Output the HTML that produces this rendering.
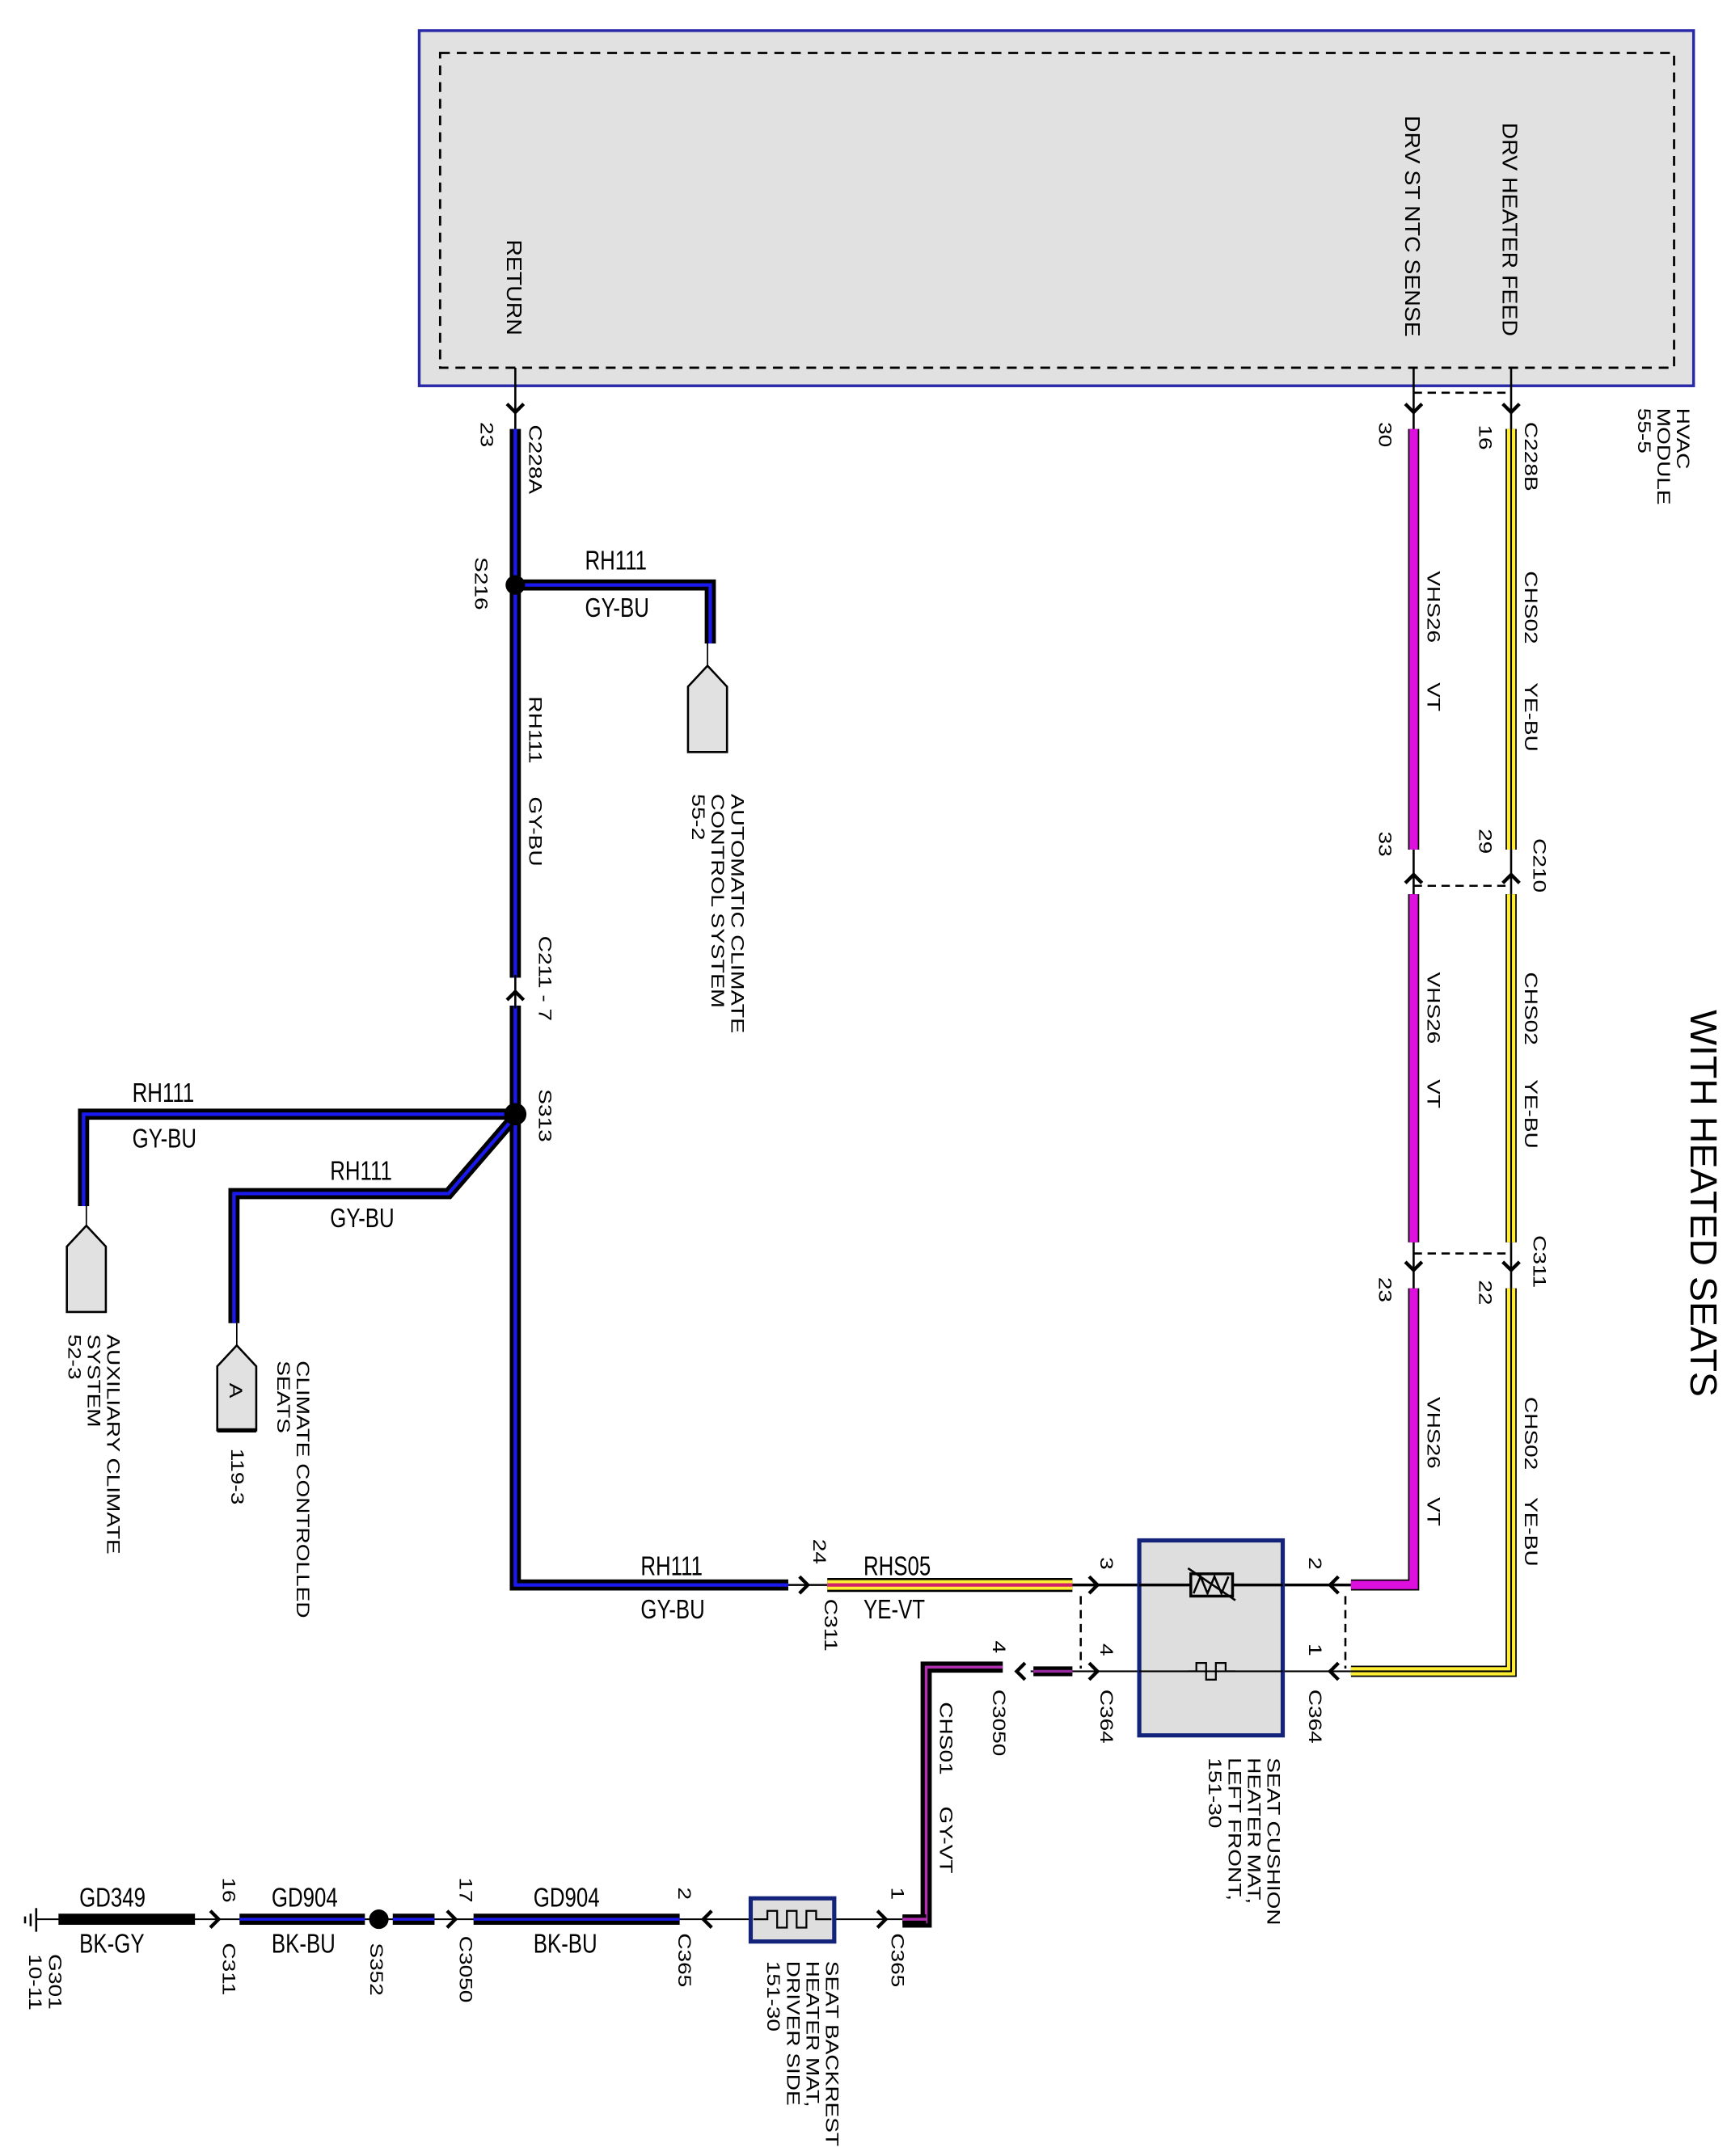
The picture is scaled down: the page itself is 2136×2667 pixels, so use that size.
<!DOCTYPE html>
<html><head><meta charset="utf-8"><style>
html,body{margin:0;padding:0;background:#fff}
svg{display:block}
text{font-family:"Liberation Sans Narrow","Liberation Sans",sans-serif;font-size:15px;fill:#000}
.s{font-size:13px}
</style></head><body>
<svg width="2136" height="2667" viewBox="0 0 1240 1548" preserveAspectRatio="none" xmlns="http://www.w3.org/2000/svg">
<defs>
<g id="ad"><path d="M-6,-6 L0,0 L6,-6" fill="none" stroke="#000" stroke-width="2.5"/></g>
</defs>
<!-- HVAC module box -->
<rect x="301" y="22" width="915" height="255" fill="#e1e1e1" stroke="#2a2aa8" stroke-width="2"/>
<rect x="316" y="38" width="886" height="226" fill="none" stroke="#000" stroke-width="1.6" stroke-dasharray="7,5"/>
<text transform="translate(364,172) rotate(90) scale(1.1,1)">RETURN</text>
<text transform="translate(1009,83) rotate(90) scale(1.1,1)">DRV ST NTC SENSE</text>
<text transform="translate(1079,88) rotate(90) scale(1.1,1)">DRV HEATER FEED</text>
<text class="s" transform="translate(1204,293) rotate(90) scale(1.25,1)">HVAC</text>
<text class="s" transform="translate(1190,293) rotate(90) scale(1.25,1)">MODULE</text>
<text class="s" transform="translate(1176,293) rotate(90) scale(1.25,1)">55-5</text>
<text style="font-size:27px" transform="translate(1214,725) rotate(90)">WITH HEATED SEATS</text>

<!-- RETURN wire -->
<line x1="370" y1="264" x2="370" y2="308" stroke="#000" stroke-width="1.5"/>
<use href="#ad" x="370" y="296"/>
<text class="s" transform="translate(380,305) rotate(90) scale(1.25,1)">C228A</text>
<text class="s" transform="translate(345,303) rotate(90) scale(1.25,1)">23</text>
<path d="M370,308 L370,1138 L566,1138" fill="none" stroke="#000" stroke-width="8"/>
<path d="M370,308 L370,1138 L566,1138" fill="none" stroke="#1a1aee" stroke-width="2.5"/>
<!-- S216 branch -->
<path d="M370,420 L510,420 L510,462" fill="none" stroke="#000" stroke-width="8"/>
<path d="M370,420 L510,420 L510,462" fill="none" stroke="#1a1aee" stroke-width="2.5"/>
<circle cx="370" cy="420" r="7" fill="#000"/>
<text class="s" transform="translate(341,400) rotate(90) scale(1.25,1)">S216</text>
<text transform="translate(420,409) scale(1,1.3)">RH111</text>
<text transform="translate(420,443) scale(1,1.3)">GY-BU</text>
<line x1="508" y1="462" x2="508" y2="478" stroke="#000"/>
<polygon points="508,478 522,493 522,540 494,540 494,493" fill="#e1e1e1" stroke="#000" stroke-width="1.5"/>
<text class="s" transform="translate(525,570) rotate(90) scale(1.28,1)">AUTOMATIC CLIMATE</text>
<text class="s" transform="translate(511,570) rotate(90) scale(1.28,1)">CONTROL SYSTEM</text>
<text class="s" transform="translate(497,570) rotate(90) scale(1.28,1)">55-2</text>
<text class="s" transform="translate(380,500) rotate(90) scale(1.25,1)">RH111</text>
<text class="s" transform="translate(380,572) rotate(90) scale(1.25,1)">GY-BU</text>
<!-- C211 -->
<rect x="362" y="702" width="16" height="20" fill="#fff"/>
<line x1="370" y1="700" x2="370" y2="724" stroke="#000" stroke-width="1.5"/>
<path d="M364,718 L370,712 L376,718" fill="none" stroke="#000" stroke-width="2.5"/>
<text class="s" transform="translate(387,672) rotate(90) scale(1.25,1)">C211 - 7</text>
<!-- S313 branches -->
<path d="M370,800 L60,800 L60,866" fill="none" stroke="#000" stroke-width="8"/>
<path d="M370,800 L60,800 L60,866" fill="none" stroke="#1a1aee" stroke-width="2.5"/>
<path d="M366,806 L322,857 L168,857 L168,950" fill="none" stroke="#000" stroke-width="8"/>
<path d="M366,806 L322,857 L168,857 L168,950" fill="none" stroke="#1a1aee" stroke-width="2.5"/>
<circle cx="370" cy="800" r="8" fill="#000"/>
<text class="s" transform="translate(387,782) rotate(90) scale(1.25,1)">S313</text>
<text transform="translate(95,791) scale(1,1.3)">RH111</text>
<text transform="translate(95,824) scale(1,1.3)">GY-BU</text>
<text transform="translate(237,847) scale(1,1.3)">RH111</text>
<text transform="translate(237,881) scale(1,1.3)">GY-BU</text>
<line x1="62" y1="866" x2="62" y2="880" stroke="#000"/>
<polygon points="62,880 76,895 76,942 48,942 48,895" fill="#e1e1e1" stroke="#000" stroke-width="1.5"/>
<text class="s" transform="translate(77,958) rotate(90) scale(1.25,1)">AUXILIARY CLIMATE</text>
<text class="s" transform="translate(63,958) rotate(90) scale(1.25,1)">SYSTEM</text>
<text class="s" transform="translate(49,958) rotate(90) scale(1.25,1)">52-3</text>
<line x1="170" y1="950" x2="170" y2="966" stroke="#000"/>
<polygon points="170,966 184,981 184,1027 156,1027 156,981" fill="#e1e1e1" stroke="#000" stroke-width="1.5"/>
<line x1="156" y1="1027" x2="184" y2="1027" stroke="#000" stroke-width="3"/>
<text class="s" transform="translate(165,993) rotate(90) scale(1.25,1)">A</text>
<text class="s" transform="translate(213,977) rotate(90) scale(1.25,1)">CLIMATE CONTROLLED</text>
<text class="s" transform="translate(199,977) rotate(90) scale(1.25,1)">SEATS</text>
<text class="s" transform="translate(166,1040) rotate(90) scale(1.25,1)">119-3</text>
<!-- bottom blue -> C311 -->
<text transform="translate(460,1131) scale(1,1.3)">RH111</text>
<text transform="translate(460,1162) scale(1,1.3)">GY-BU</text>
<line x1="566" y1="1138" x2="594" y2="1138" stroke="#000" stroke-width="1.5"/>
<path d="M574,1132 L580,1138 L574,1144" fill="none" stroke="#000" stroke-width="2.5"/>
<text class="s" transform="translate(584,1105) rotate(90) scale(1.25,1)">24</text>
<text class="s" transform="translate(592,1148) rotate(90) scale(1.25,1)">C311</text>
<line x1="594" y1="1138" x2="770" y2="1138" stroke="#000" stroke-width="10"/>
<line x1="594" y1="1138" x2="770" y2="1138" stroke="#ffee33" stroke-width="7"/>
<line x1="594" y1="1138" x2="770" y2="1138" stroke="#d0206a" stroke-width="2.5"/>
<text transform="translate(620,1131) scale(1,1.3)">RHS05</text>
<text transform="translate(620,1162) scale(1,1.3)">YE-VT</text>
<!-- seat cushion -->
<line x1="770" y1="1138" x2="970" y2="1138" stroke="#000" stroke-width="2"/>
<line x1="740" y1="1200" x2="970" y2="1200" stroke="#000" stroke-width="1.2"/>
<rect x="818" y="1106" width="103" height="140" fill="#dedede" stroke="#13237a" stroke-width="3"/>
<line x1="818" y1="1138" x2="921" y2="1138" stroke="#000" stroke-width="2"/>
<line x1="818" y1="1200" x2="921" y2="1200" stroke="#000" stroke-width="1.2"/>
<rect x="855" y="1130" width="30" height="16" fill="#dedede" stroke="#000" stroke-width="2"/>
<path d="M857,1144 L862,1132 L867,1144 L872,1132 L877,1144 L882,1132" fill="none" stroke="#000" stroke-width="1.5"/>
<line x1="853" y1="1126" x2="887" y2="1149" stroke="#000" stroke-width="1.5"/>
<path d="M853,1200 L859,1200 L859,1194 L866,1194 L866,1206 L873,1206 L873,1194 L880,1194 L880,1200 L887,1200" fill="none" stroke="#000" stroke-width="1.3"/>
<path d="M782,1132 L788,1138 L782,1144" fill="none" stroke="#000" stroke-width="2.5"/>
<path d="M782,1194 L788,1200 L782,1206" fill="none" stroke="#000" stroke-width="2.5"/>
<path d="M961,1132 L955,1138 L961,1144" fill="none" stroke="#000" stroke-width="2.5"/>
<path d="M961,1194 L955,1200 L961,1206" fill="none" stroke="#000" stroke-width="2.5"/>
<line x1="776" y1="1146" x2="776" y2="1198" stroke="#000" stroke-width="1.5" stroke-dasharray="6,4"/>
<line x1="966" y1="1146" x2="966" y2="1198" stroke="#000" stroke-width="1.5" stroke-dasharray="6,4"/>
<text class="s" transform="translate(790,1118) rotate(90) scale(1.25,1)">3</text>
<text class="s" transform="translate(790,1180) rotate(90) scale(1.25,1)">4</text>
<text class="s" transform="translate(940,1118) rotate(90) scale(1.25,1)">2</text>
<text class="s" transform="translate(940,1180) rotate(90) scale(1.25,1)">1</text>
<text class="s" transform="translate(790,1213) rotate(90) scale(1.25,1)">C364</text>
<text class="s" transform="translate(940,1213) rotate(90) scale(1.25,1)">C364</text>
<text class="s" transform="translate(910,1262) rotate(90) scale(1.25,1)">SEAT CUSHION</text>
<text class="s" transform="translate(896,1262) rotate(90) scale(1.25,1)">HEATER MAT,</text>
<text class="s" transform="translate(882,1262) rotate(90) scale(1.25,1)">LEFT FRONT,</text>
<text class="s" transform="translate(868,1262) rotate(90) scale(1.25,1)">151-30</text>
<!-- magenta VHS26 / yellow CHS02 -->
<g fill="none" stroke-linejoin="miter">
<path d="M1015,308 L1015,610 M1015,642 L1015,892 M1015,925 L1015,1138 L970,1138" stroke="#000" stroke-width="8"/>
<path d="M1015,308 L1015,610 M1015,642 L1015,892 M1015,925 L1015,1138 L970,1138" stroke="#dd10dd" stroke-width="6"/>
<path d="M1085,308 L1085,610 M1085,642 L1085,892 M1085,925 L1085,1200 L970,1200" stroke="#000" stroke-width="8"/>
<path d="M1085,308 L1085,610 M1085,642 L1085,892 M1085,925 L1085,1200 L970,1200" stroke="#ffee33" stroke-width="6"/>
<path d="M1085,308 L1085,610 M1085,642 L1085,892 M1085,925 L1085,1200 L970,1200" stroke="#000" stroke-width="1.2"/>
</g>
<line x1="1015" y1="264" x2="1015" y2="308" stroke="#000" stroke-width="1.5"/>
<line x1="1085" y1="264" x2="1085" y2="308" stroke="#000" stroke-width="1.5"/>
<use href="#ad" x="1015" y="296"/><use href="#ad" x="1085" y="296"/>
<line x1="1015" y1="282" x2="1085" y2="282" stroke="#000" stroke-width="1.5" stroke-dasharray="6,4"/>
<line x1="1015" y1="610" x2="1015" y2="642" stroke="#000" stroke-width="1.5"/>
<line x1="1085" y1="610" x2="1085" y2="642" stroke="#000" stroke-width="1.5"/>
<path d="M1009,634 L1015,628 L1021,634" fill="none" stroke="#000" stroke-width="2.5"/>
<path d="M1079,634 L1085,628 L1091,634" fill="none" stroke="#000" stroke-width="2.5"/>
<line x1="1015" y1="636" x2="1085" y2="636" stroke="#000" stroke-width="1.5" stroke-dasharray="6,4"/>
<line x1="1015" y1="892" x2="1015" y2="925" stroke="#000" stroke-width="1.5"/>
<line x1="1085" y1="892" x2="1085" y2="925" stroke="#000" stroke-width="1.5"/>
<use href="#ad" x="1015" y="912"/><use href="#ad" x="1085" y="912"/>
<line x1="1015" y1="900" x2="1085" y2="900" stroke="#000" stroke-width="1.5" stroke-dasharray="6,4"/>
<text class="s" transform="translate(990,303) rotate(90) scale(1.25,1)">30</text>
<text class="s" transform="translate(1062,305) rotate(90) scale(1.25,1)">16</text>
<text class="s" transform="translate(1095,303) rotate(90) scale(1.25,1)">C228B</text>
<text class="s" transform="translate(990,597) rotate(90) scale(1.25,1)">33</text>
<text class="s" transform="translate(1062,595) rotate(90) scale(1.25,1)">29</text>
<text class="s" transform="translate(1101,602) rotate(90) scale(1.25,1)">C210</text>
<text class="s" transform="translate(990,917) rotate(90) scale(1.25,1)">23</text>
<text class="s" transform="translate(1062,919) rotate(90) scale(1.25,1)">22</text>
<text class="s" transform="translate(1101,887) rotate(90) scale(1.25,1)">C311</text>
<text class="s" transform="translate(1025,410) rotate(90) scale(1.25,1)">VHS26</text>
<text class="s" transform="translate(1025,490) rotate(90) scale(1.25,1)">VT</text>
<text class="s" transform="translate(1095,410) rotate(90) scale(1.25,1)">CHS02</text>
<text class="s" transform="translate(1095,490) rotate(90) scale(1.25,1)">YE-BU</text>
<text class="s" transform="translate(1025,698) rotate(90) scale(1.25,1)">VHS26</text>
<text class="s" transform="translate(1025,775) rotate(90) scale(1.25,1)">VT</text>
<text class="s" transform="translate(1095,698) rotate(90) scale(1.25,1)">CHS02</text>
<text class="s" transform="translate(1095,775) rotate(90) scale(1.25,1)">YE-BU</text>
<text class="s" transform="translate(1025,1003) rotate(90) scale(1.25,1)">VHS26</text>
<text class="s" transform="translate(1025,1075) rotate(90) scale(1.25,1)">VT</text>
<text class="s" transform="translate(1095,1003) rotate(90) scale(1.25,1)">CHS02</text>
<text class="s" transform="translate(1095,1075) rotate(90) scale(1.25,1)">YE-BU</text>
<!-- CHS01 GY-VT -->
<line x1="742" y1="1200" x2="770" y2="1200" stroke="#000" stroke-width="7"/>
<line x1="742" y1="1200" x2="770" y2="1200" stroke="#9a2aa0" stroke-width="2"/>
<path d="M736,1194 L730,1200 L736,1206" fill="none" stroke="#000" stroke-width="2.5"/>
<text class="s" transform="translate(713,1178) rotate(90) scale(1.25,1)">4</text>
<text class="s" transform="translate(713,1213) rotate(90) scale(1.25,1)">C3050</text>
<path d="M720,1197 L665,1197 L665,1380 L648,1380" fill="none" stroke="#000" stroke-width="8"/>
<path d="M720,1197 L665,1197 L665,1380 L648,1380" fill="none" stroke="#b030b0" stroke-width="2"/>
<text class="s" transform="translate(675,1222) rotate(90) scale(1.25,1)">CHS01</text>
<text class="s" transform="translate(675,1297) rotate(90) scale(1.25,1)">GY-VT</text>
<!-- bottom ground row -->
<line x1="26" y1="1378" x2="648" y2="1378" stroke="#000" stroke-width="1.2"/>
<line x1="26" y1="1370" x2="26" y2="1387" stroke="#000" stroke-width="1.5"/>
<line x1="22" y1="1374" x2="22" y2="1383" stroke="#000" stroke-width="1.5"/>
<line x1="18" y1="1376" x2="18" y2="1381" stroke="#000" stroke-width="1.5"/>
<line x1="42" y1="1378" x2="140" y2="1378" stroke="#000" stroke-width="8"/>
<line x1="172" y1="1378" x2="262" y2="1378" stroke="#000" stroke-width="8"/>
<line x1="172" y1="1378" x2="262" y2="1378" stroke="#1a1aee" stroke-width="2"/>
<line x1="282" y1="1378" x2="312" y2="1378" stroke="#000" stroke-width="8"/>
<line x1="282" y1="1378" x2="312" y2="1378" stroke="#1a1aee" stroke-width="2"/>
<line x1="340" y1="1378" x2="488" y2="1378" stroke="#000" stroke-width="8"/>
<line x1="340" y1="1378" x2="488" y2="1378" stroke="#1a1aee" stroke-width="2"/>
<circle cx="272" cy="1378" r="7" fill="#000"/>
<path d="M151,1372 L157,1378 L151,1384" fill="none" stroke="#000" stroke-width="2.5"/>
<path d="M321,1372 L327,1378 L321,1384" fill="none" stroke="#000" stroke-width="2.5"/>
<path d="M511,1372 L505,1378 L511,1384" fill="none" stroke="#000" stroke-width="2.5"/>
<path d="M630,1372 L636,1378 L630,1384" fill="none" stroke="#000" stroke-width="2.5"/>
<line x1="648" y1="1378" x2="665" y2="1378" stroke="#000" stroke-width="7"/>
<line x1="648" y1="1378" x2="665" y2="1378" stroke="#b030b0" stroke-width="2"/>
<rect x="539" y="1363" width="60" height="31" fill="#dedede" stroke="#13237a" stroke-width="3"/>
<path d="M541,1378 L551,1378 L551,1372 L558,1372 L558,1384 L565,1384 L565,1372 L572,1372 L572,1384 L579,1384 L579,1372 L586,1372 L586,1378 L597,1378" fill="none" stroke="#000" stroke-width="1.3"/>
<text transform="translate(57,1369) scale(1,1.3)">GD349</text>
<text transform="translate(57,1402) scale(1,1.3)">BK-GY</text>
<text transform="translate(195,1369) scale(1,1.3)">GD904</text>
<text transform="translate(195,1402) scale(1,1.3)">BK-BU</text>
<text transform="translate(383,1369) scale(1,1.3)">GD904</text>
<text transform="translate(383,1402) scale(1,1.3)">BK-BU</text>
<text class="s" transform="translate(160,1348) rotate(90) scale(1.25,1)">16</text>
<text class="s" transform="translate(160,1395) rotate(90) scale(1.25,1)">C311</text>
<text class="s" transform="translate(266,1395) rotate(90) scale(1.25,1)">S352</text>
<text class="s" transform="translate(330,1348) rotate(90) scale(1.25,1)">17</text>
<text class="s" transform="translate(330,1390) rotate(90) scale(1.25,1)">C3050</text>
<text class="s" transform="translate(487,1355) rotate(90) scale(1.25,1)">2</text>
<text class="s" transform="translate(487,1388) rotate(90) scale(1.25,1)">C365</text>
<text class="s" transform="translate(640,1355) rotate(90) scale(1.25,1)">1</text>
<text class="s" transform="translate(640,1388) rotate(90) scale(1.25,1)">C365</text>
<text class="s" transform="translate(35,1403) rotate(90) scale(1.25,1)">G301</text>
<text class="s" transform="translate(21,1403) rotate(90) scale(1.25,1)">10-11</text>
<text class="s" transform="translate(593,1408) rotate(90) scale(1.25,1)">SEAT BACKREST</text>
<text class="s" transform="translate(579,1408) rotate(90) scale(1.25,1)">HEATER MAT,</text>
<text class="s" transform="translate(565,1408) rotate(90) scale(1.25,1)">DRIVER SIDE</text>
<text class="s" transform="translate(551,1408) rotate(90) scale(1.25,1)">151-30</text>
</svg>
</body></html>
